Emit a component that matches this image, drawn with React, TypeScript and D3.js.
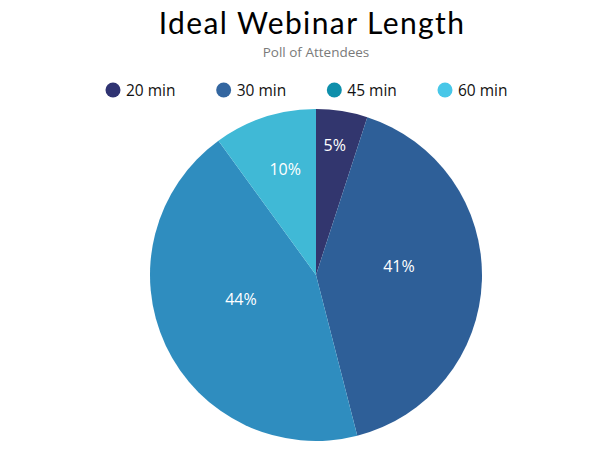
import React from "react";
import * as d3 from "d3";

const categories = ["20 min", "30 min", "45 min", "60 min"];
const values = [5, 41, 44, 10];
const sliceColors = ["#32366e", "#2e5f98", "#2f8dbf", "#40b9d6"];
const legendColors = ["#2f3372", "#3366a0", "#0e8fab", "#48c7e8"];
const title = "Ideal Webinar Length";
const subtitle = "Poll of Attendees";

const W = 600;
const H = 450;
const cx = 316;
const cy = 275;
const R = 166;

export default function App() {
  const total = d3.sum(values);
  const pie = d3.pie<number>().sort(null).value((d) => d)(values);
  const arc = d3.arc<d3.PieArcDatum<number>>().innerRadius(0).outerRadius(R);
  const legendX = d3.scalePoint<string>().domain(categories).range([113, 445]);

  return (
    <svg width={W} height={H} style={{ position: "absolute", left: 0, top: 0 }}>
      <rect width={W} height={H} fill="#ffffff" />
      <text x={312} y={34} textAnchor="middle" fontFamily="Lato, 'Open Sans', sans-serif" fontSize={30} fill="#000" letterSpacing={1.4}>
        {title}
      </text>
      <text x={316} y={57} textAnchor="middle" fontFamily="'Open Sans', sans-serif" fontSize={13.5} fill="#7a7a7a">
        {subtitle}
      </text>
      {categories.map((c, i) => (
        <g key={c} transform={`translate(${legendX(c)},90)`}>
          <circle r={7.5} fill={legendColors[i]} />
          <text x={13} y={5.5} fontFamily="'Open Sans', sans-serif" fontSize={15.5} fill="#111">
            {c}
          </text>
        </g>
      ))}
      <g transform={`translate(${cx},${cy})`}>
        {pie.map((p, i) => (
          <path key={i} d={arc(p) || ""} fill={sliceColors[i]} />
        ))}
        {pie.map((p, i) => {
          const span = p.endAngle - p.startAngle;
          const frac = Math.max(0.5, 0.72 - (span - 0.314) * 0.382);
          const mid = (p.startAngle + p.endAngle) / 2;
          const x = Math.sin(mid) * R * frac;
          const y = -Math.cos(mid) * R * frac;
          return (
            <text key={"l" + i} x={x} y={y - 5.5} textAnchor="middle" fontFamily="'Open Sans', sans-serif" fontSize={16} fill="#ffffff">
              {Math.round((values[i] / total) * 100) + "%"}
            </text>
          );
        })}
      </g>
    </svg>
  );
}
